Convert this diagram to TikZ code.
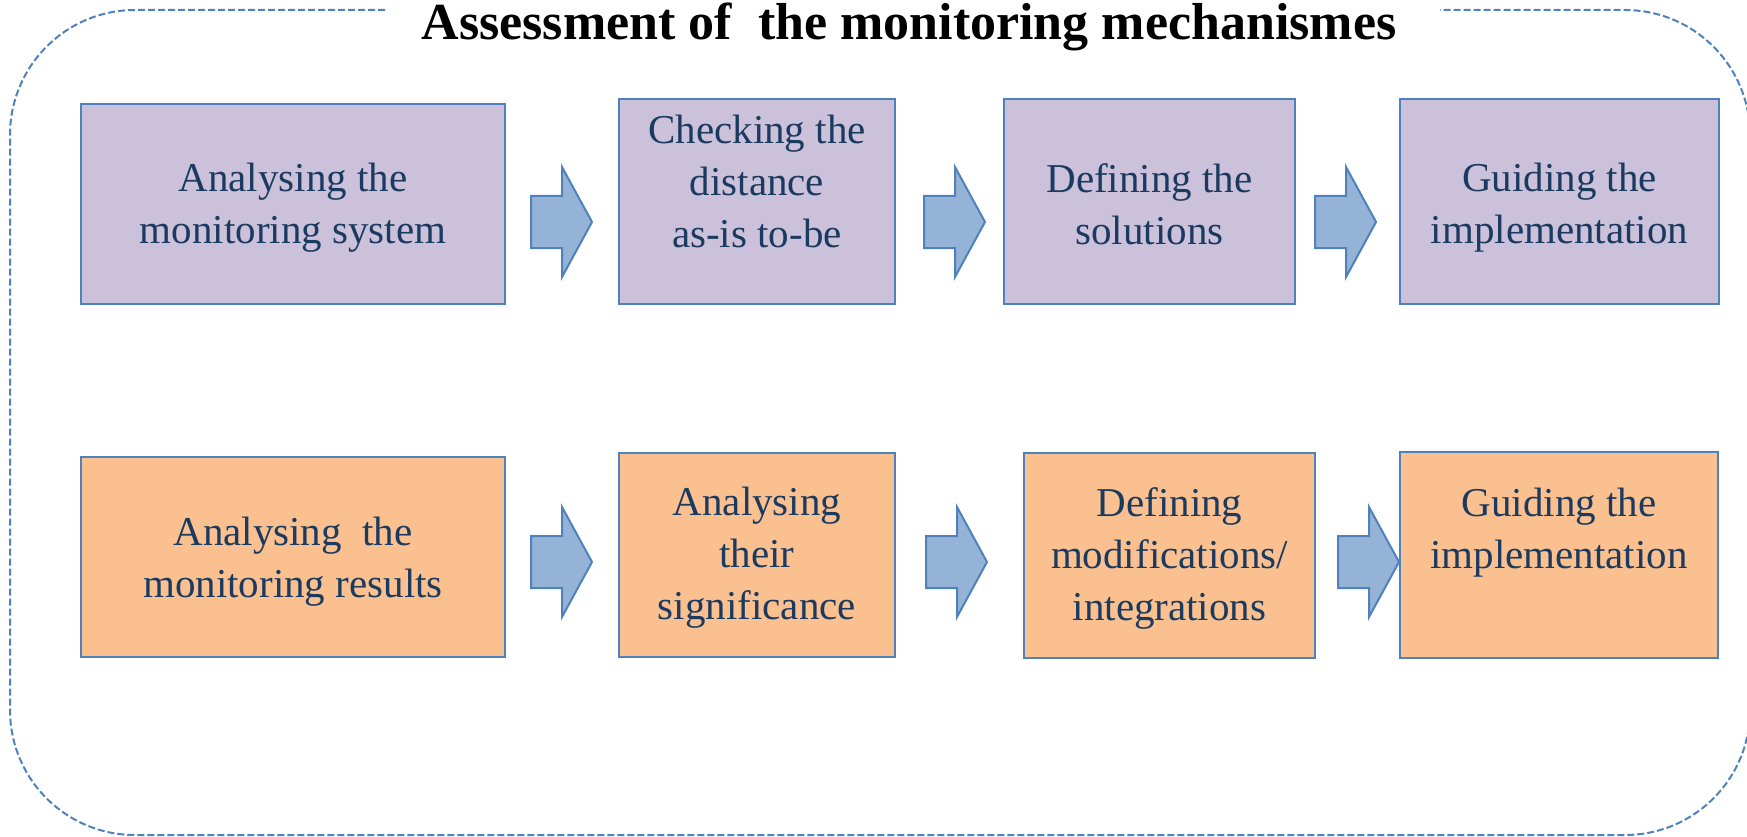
\documentclass[tikz,border=0pt]{standalone}
\usepackage{fontspec}
\setmainfont{Liberation Serif}
\definecolor{lav}{HTML}{CCC1DA}
\definecolor{peach}{HTML}{FAC090}
\definecolor{arrfill}{HTML}{95B3D7}
\definecolor{edge}{HTML}{4F81BD}
\definecolor{navy}{HTML}{1B3A5F}
\begin{document}
\begin{tikzpicture}[x=1pt,y=-1pt,
  box/.style={draw=edge,line width=2pt,inner sep=0pt,rectangle},
  pbox/.style={box,fill=lav},
  obox/.style={box,fill=peach},
  txt/.style={text=navy,align=center,inner sep=0pt,font=\fontsize{41}{52}\selectfont},
  arrowst/.style={draw=edge,fill=arrfill,line width=2pt,line join=miter},
  barrow/.pic={\draw[arrowst] (0,-26) -- (31,-26) -- (31,-55) -- (61,0) -- (31,55) -- (31,26) -- (0,26) -- cycle;},
  outer/.style={draw=edge,line width=2pt,dash pattern=on 7pt off 3pt,rounded corners=125pt}]
\useasboundingbox (0,0) rectangle (1747,837);
\clip (0,0) rectangle (1747,837);
% outer frame
\draw[outer] (385,10) -- (10,10) -- (10,835) -- (1750,835) -- (1750,10) -- (1440,10);
\node[anchor=base,inner sep=0pt,font=\fontsize{52}{60}\selectfont\bfseries] (title) at (909,40) {Assessment of~ the monitoring mechanismes};
% row 1
\node[pbox,minimum width=424pt,minimum height=200pt] (a1) at (293,204) {};
\node[pbox,minimum width=276pt,minimum height=205pt] (a2) at (757,201.5) {};
\node[pbox,minimum width=291pt,minimum height=205pt] (a3) at (1149.5,201.5) {};
\node[pbox,minimum width=319pt,minimum height=205pt] (a4) at (1559.5,201.5) {};
\node[txt] (a1t) at (293,208) {Analysing the\\monitoring system};
\node[txt] (a2t) at (757,181) {Checking the\\distance\\as-is to-be};
\node[txt] (a3t) at (1149.5,204) {Defining the\\solutions};
\node[txt] (a4t) at (1559.5,208) {Guiding the\\implementation};
\pic at (531,222) {barrow};
\pic at (924,222) {barrow};
\pic at (1315,222) {barrow};
% row 2
\node[obox,minimum width=424pt,minimum height=200pt] (b1) at (293,557) {};
\node[obox,minimum width=276pt,minimum height=204pt] (b2) at (757,555) {};
\node[obox,minimum width=291pt,minimum height=205pt] (b3) at (1169.5,555.5) {};
\node[obox,minimum width=318pt,minimum height=206pt] (b4) at (1559,555) {};
\node[txt] (b1t) at (293,562) {Analysing~ the\\monitoring results};
\node[txt] (b2t) at (757,558) {Analysing\\their\\significance};
\node[txt] (b3t) at (1169.5,558) {Defining\\modifications/\\integrations};
\node[txt] (b4t) at (1559,533) {Guiding the\\implementation};
\pic at (531,562) {barrow};
\pic at (926,562) {barrow};
\pic at (1338,562) {barrow};
\end{tikzpicture}
\end{document}
